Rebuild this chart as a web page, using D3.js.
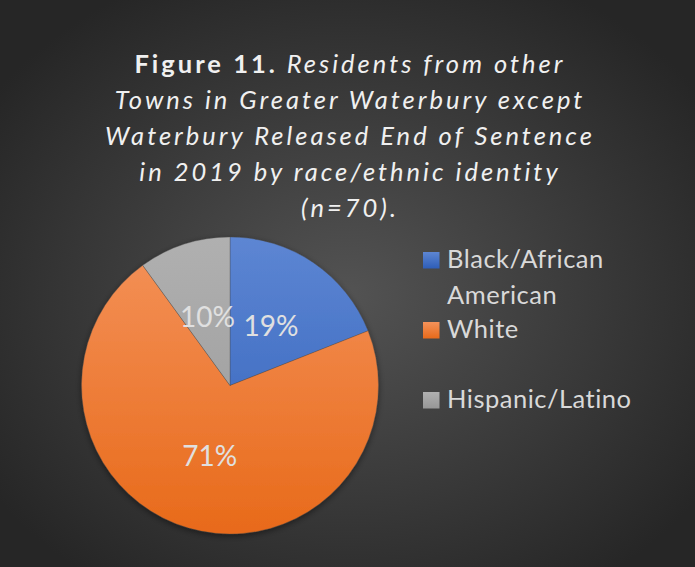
<!DOCTYPE html>
<html>
<head>
<meta charset="utf-8">
<script src="https://cdn.jsdelivr.net/npm/d3@7"></script>
<style>
  html, body { margin: 0; padding: 0; background: #2b2b2b; }
  svg { display: block; }
</style>
</head>
<body>
<svg id="chart" width="695" height="567"></svg>
<script>
// Release counts by race/ethnic identity (percent of n=70)
const categories = ["Black/African American", "White", "Hispanic/Latino"];
const values = [19, 71, 10];
const legendLines = [["Black/African", "American"], ["White"], ["Hispanic/Latino"]];
const titleLines = [
  { bold: "Figure 11.", rest: " Residents from other" },
  { bold: "", rest: "Towns in Greater Waterbury except" },
  { bold: "", rest: "Waterbury Released End of Sentence" },
  { bold: "", rest: "in 2019 by race/ethnic identity" },
  { bold: "", rest: "(n=70)." }
];

const W = 695, H = 567;
const svg = d3.select("#chart");
const defs = svg.append("defs");

// Background: dark radial vignette
const bg = defs.append("radialGradient").attr("id", "bg")
  .attr("cx", "50%").attr("cy", "52%").attr("r", "62%");
bg.append("stop").attr("offset", "0%").attr("stop-color", "#535353");
bg.append("stop").attr("offset", "100%").attr("stop-color", "#262626");
svg.append("rect").attr("width", W).attr("height", H).attr("fill", "url(#bg)");

const cx = 230, cy = 385.5, R = 148.5;

const palette = [
  { top: "#5d86d3", bottom: "#2e5eb8" },
  { top: "#f4925a", bottom: "#e86a1a" },
  { top: "#b0b0b0", bottom: "#979797" }
];
// Vertical shading spanning the whole pie (coordinates relative to its centre)
palette.forEach((p, i) => {
  const g = defs.append("linearGradient").attr("id", "slice" + i)
    .attr("gradientUnits", "userSpaceOnUse")
    .attr("x1", 0).attr("y1", -R).attr("x2", 0).attr("y2", R);
  g.append("stop").attr("offset", "0%").attr("stop-color", p.top);
  g.append("stop").attr("offset", "100%").attr("stop-color", p.bottom);
});

// Soft shadow under the pie
const shadow = defs.append("filter").attr("id", "shadow")
  .attr("x", "-20%").attr("y", "-20%").attr("width", "140%").attr("height", "140%");
shadow.append("feDropShadow").attr("dx", 0).attr("dy", 2).attr("stdDeviation", 3)
  .attr("flood-color", "#000").attr("flood-opacity", 0.45);

const pie = d3.pie().sort(null).value(d => d)(values);
const arc = d3.arc().innerRadius(0).outerRadius(R);
const labelArc = d3.arc().innerRadius(R * 0.49).outerRadius(R * 0.49);

const g = svg.append("g").attr("transform", `translate(${cx},${cy})`);
g.append("g").attr("filter", "url(#shadow)")
  .selectAll("path").data(pie).join("path")
  .attr("d", arc)
  .attr("fill", (d, i) => `url(#slice${i})`)
  .attr("stroke", "rgba(70,70,70,0.55)")
  .attr("stroke-width", 0.6);

g.selectAll("text.lbl").data(pie).join("text")
  .attr("class", "lbl")
  .attr("transform", d => `translate(${labelArc.centroid(d)})`)
  .attr("text-anchor", "middle")
  .attr("dominant-baseline", "central")
  .attr("font-family", "Lato, 'Noto Sans', sans-serif")
  .attr("font-size", 28)
  .attr("fill", "#e0e0e0")
  .text(d => d.data + "%");

// Title
const title = svg.append("text")
  .attr("text-anchor", "middle")
  .attr("font-family", "Lato, 'Noto Sans', sans-serif")
  .attr("font-size", 25.5)
  .attr("fill", "#f0f0f0")
  .attr("letter-spacing", 3.0);
titleLines.forEach((ln, i) => {
  const t = title.append("tspan").attr("x", 350).attr("y", 73 + i * 36);
  if (ln.bold) t.append("tspan").attr("font-weight", 700).attr("font-style", "normal").text(ln.bold);
  t.append("tspan").attr("font-style", "italic").attr("font-weight", 400).text(ln.rest);
});

// Legend
const legend = svg.append("g");
const legendTop = [252, 322, 392];
categories.forEach((c, i) => {
  const y0 = legendTop[i];
  const lg = defs.append("linearGradient").attr("id", "leg" + i)
    .attr("x1", 0).attr("y1", 0).attr("x2", 0).attr("y2", 1);
  lg.append("stop").attr("offset", "0%").attr("stop-color", palette[i].top);
  lg.append("stop").attr("offset", "100%").attr("stop-color", palette[i].bottom);
  legend.append("rect").attr("x", 423).attr("y", y0).attr("width", 16.5).attr("height", 16.5)
    .attr("fill", `url(#leg${i})`);
  legendLines[i].forEach((s, j) => {
    legend.append("text")
      .attr("x", 447).attr("y", y0 + 16 + j * 36)
      .attr("font-family", "Lato, 'Noto Sans', sans-serif")
      .attr("font-size", 25.5)
      .attr("letter-spacing", 0.5)
      .attr("fill", "#d9d9d9")
      .text(s);
  });
});
</script>
</body>
</html>
